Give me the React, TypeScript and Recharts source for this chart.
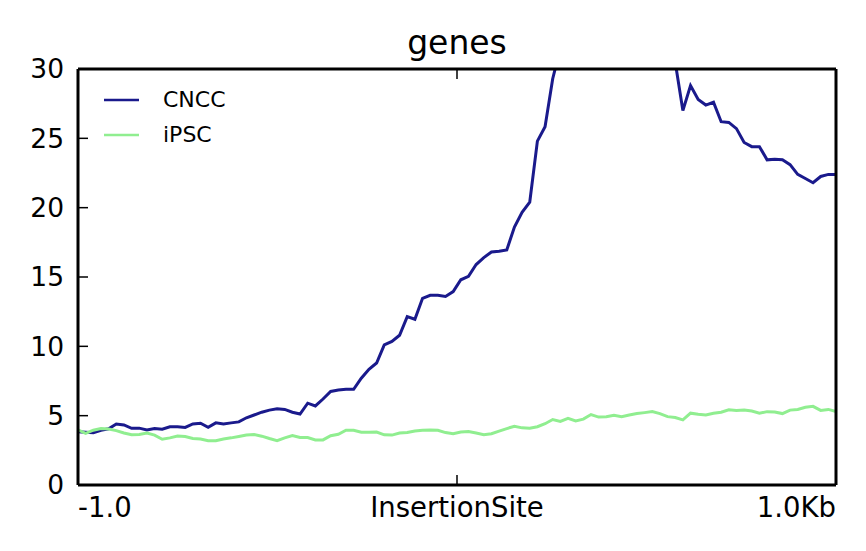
import React from "react";
import { LineChart, Line, XAxis, YAxis, Legend } from "recharts";

// tick labels
const xTickLabels = ["-1.0", "InsertionSite", "1.0Kb"];
const yTicks = [0, 5, 10, 15, 20, 25, 30];

// profile values, 100 bins from -1.0 to 1.0Kb
const cncc = [
  3.84, 3.8, 3.77, 3.95, 4.05, 4.4, 4.33, 4.09, 4.1, 3.97,
  4.08, 4.02, 4.2, 4.2, 4.15, 4.4, 4.45, 4.16, 4.48, 4.4,
  4.48, 4.55, 4.85, 5.05, 5.25, 5.4, 5.5, 5.45, 5.25, 5.12,
  5.9, 5.7, 6.2, 6.75, 6.85, 6.9, 6.9, 7.7, 8.35, 8.8,
  10.1, 10.35, 10.8, 12.14, 11.95, 13.46, 13.68, 13.68, 13.6, 13.95,
  14.8, 15.05, 15.9, 16.4, 16.8, 16.85, 16.95, 18.6, 19.66, 20.4,
  24.8, 25.84, 29.3, 31.5, 33.5, 35.5, 37, 38, 38.5, 38.8,
  38.5, 38, 37, 36, 35, 33.8, 32.5, 31.5, 30.5, 27.0,
  28.8, 27.8, 27.4, 27.6, 26.2, 26.15, 25.7, 24.7, 24.4, 24.4,
  23.45, 23.5, 23.45, 23.1, 22.4, 22.1, 21.8, 22.25, 22.4, 22.4,
];

const ipsc = [
  3.97, 3.73, 3.95, 4.08, 4.04, 3.92, 3.75, 3.62, 3.65, 3.74,
  3.6, 3.3, 3.4, 3.53, 3.49, 3.36, 3.32, 3.2, 3.2, 3.32,
  3.4, 3.5, 3.6, 3.64, 3.52, 3.35, 3.2, 3.4, 3.56, 3.42,
  3.42, 3.25, 3.25, 3.55, 3.66, 3.95, 3.95, 3.8, 3.8, 3.82,
  3.62, 3.6, 3.75, 3.78, 3.9, 3.95, 3.97, 3.95, 3.78, 3.7,
  3.82, 3.86, 3.75, 3.63, 3.7, 3.88, 4.07, 4.24, 4.12, 4.09,
  4.2, 4.42, 4.72, 4.58, 4.8, 4.62, 4.75, 5.08, 4.9, 4.92,
  5.03, 4.92, 5.05, 5.15, 5.22, 5.3, 5.15, 4.93, 4.87, 4.7,
  5.18, 5.1, 5.05, 5.18, 5.25, 5.42, 5.38, 5.4, 5.33, 5.18,
  5.29, 5.27, 5.15, 5.4, 5.45, 5.6, 5.67, 5.38, 5.45, 5.3,
];

const data = cncc.map((v, i) => ({ pos: i, CNCC: v, iPSC: ipsc[i] }));
const last = cncc.length - 1;
const xTicks = [0, last / 2, last];

const FONT = "DejaVu Sans";

const XTick = (props: any) => {
  const { x, y, payload } = props;
  const idx = xTicks.indexOf(payload.value);
  const anchor = idx === 0 ? "start" : idx === xTicks.length - 1 ? "end" : "middle";
  return (
    <text x={x} y={y} dy="0.71em" textAnchor={anchor} fontSize={27.5} fontFamily={FONT} fill="#000">
      {xTickLabels[idx]}
    </text>
  );
};

const NoTick = () => <g />;

const LegendBox = ({ payload }: any) => (
  <div style={{ fontFamily: FONT, fontSize: 22, color: "#000" }}>
    {(payload || []).map((entry: any) => (
      <div key={entry.value} style={{ display: "flex", alignItems: "center", height: 35 }}>
        <svg width={35} height={4}>
          <line x1={0} x2={35} y1={2} y2={2} stroke={entry.color} strokeWidth={2.5} />
        </svg>
        <span style={{ marginLeft: 24 }}>{entry.value}</span>
      </div>
    ))}
  </div>
);

export default function App() {
  return (
    <div style={{ position: "absolute", left: 0, top: 0, width: 866, height: 551, background: "#fff" }}>
      <LineChart width={866} height={551} data={data} margin={{ top: 0, right: 0, bottom: 0, left: 0 }}>
        <XAxis
          dataKey="pos"
          type="number"
          domain={[0, last]}
          ticks={xTicks}
          interval={0}
          height={66}
          stroke="#000"
          axisLine={{ strokeWidth: 3 }}
          tickLine={{ strokeWidth: 1.5 }}
          tickSize={-10}
          tickMargin={22}
          tick={XTick}
        />
        <XAxis
          xAxisId="top"
          orientation="top"
          dataKey="pos"
          type="number"
          domain={[0, last]}
          ticks={xTicks}
          interval={0}
          height={69}
          stroke="#000"
          axisLine={{ strokeWidth: 3 }}
          tickLine={{ strokeWidth: 1.5 }}
          tickSize={-10}
          tick={NoTick}
        />
        <YAxis
          domain={[0, 30]}
          ticks={yTicks}
          allowDataOverflow
          width={78}
          stroke="#000"
          axisLine={{ strokeWidth: 3 }}
          tickLine={{ strokeWidth: 1.5 }}
          tickSize={-10}
          tickMargin={24}
          tick={{ fontSize: 26.5, fontFamily: FONT, fill: "#000" }}
        />
        <YAxis
          yAxisId="right"
          orientation="right"
          domain={[0, 30]}
          ticks={yTicks}
          width={30}
          stroke="#000"
          axisLine={{ strokeWidth: 3 }}
          tickLine={{ strokeWidth: 1.5 }}
          tickSize={-10}
          tick={NoTick}
        />
        <Legend
          layout="vertical"
          align="center"
          verticalAlign="middle"
          wrapperStyle={{ left: 104, top: 82, width: "auto" }}
          content={LegendBox}
        />
        <Line
          type="linear"
          dataKey="CNCC"
          name="CNCC"
          stroke="#1a1a8c"
          strokeWidth={3}
          dot={false}
          isAnimationActive={false}
        />
        <Line
          type="linear"
          dataKey="iPSC"
          name="iPSC"
          stroke="#90ee90"
          strokeWidth={3}
          dot={false}
          isAnimationActive={false}
        />
      </LineChart>
      <div
        style={{
          position: "absolute",
          left: 357,
          top: 26,
          width: 200,
          textAlign: "center",
          fontSize: 33,
          lineHeight: "33px",
          fontFamily: FONT,
          color: "#000",
        }}
      >
        genes
      </div>
    </div>
  );
}
